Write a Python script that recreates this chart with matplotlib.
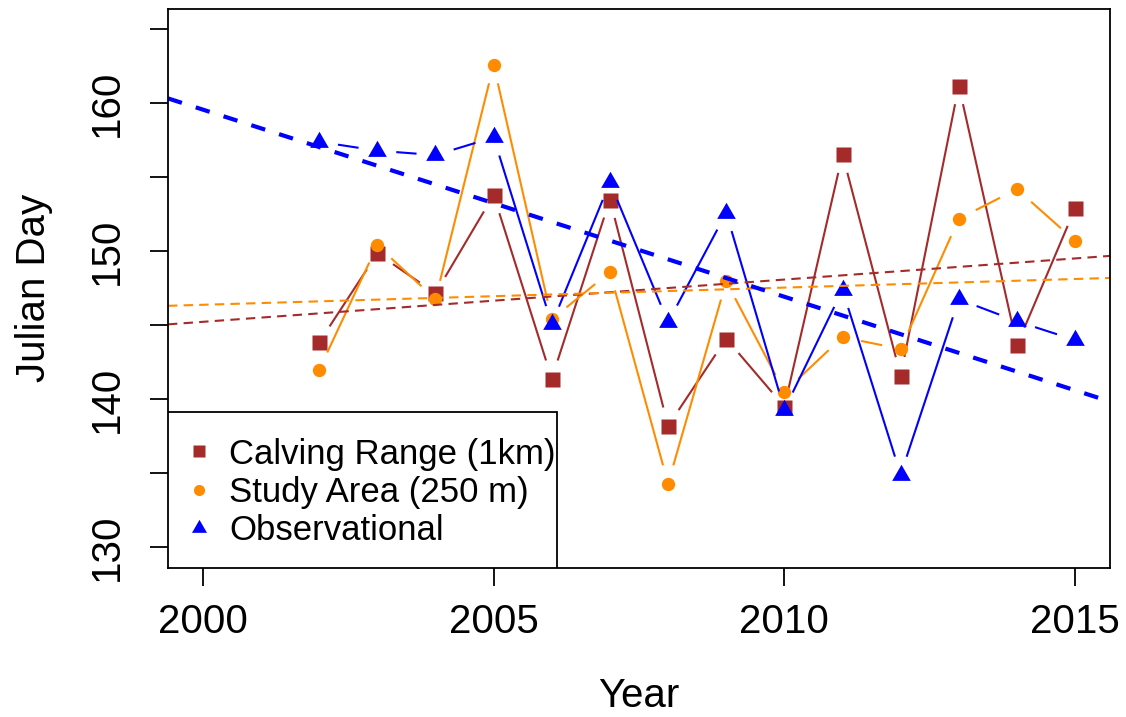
import numpy as np
import matplotlib
matplotlib.use("Agg")
import matplotlib.pyplot as plt
from matplotlib.lines import Line2D
from matplotlib.patches import Rectangle

plt.rcParams['font.family'] = ['Liberation Sans', 'DejaVu Sans']

years = np.arange(2002, 2016)
calving = [143.85, 149.86, 147.16, 153.8, 141.4, 153.5, 138.2, 144.1, 139.5, 156.55, 141.6, 161.2, 143.65, 152.9]
study = [142.0, 150.4, 146.76, 162.6, 145.4, 148.6, 134.3, 147.97, 140.5, 144.2, 143.4, 152.2, 154.2, 150.7]
observ = [157.4, 156.8, 156.5, 157.7, 145.07, 154.66, 145.2, 152.6, 139.3, 147.4, 134.9, 146.76, 145.27, 144.0]

labels = ['Calving Range (1km)', 'Study Area (250 m)', 'Observational']
colors = ['#A52A2A', '#FF8C00', '#0000FF']

x_ticks = [2000, 2005, 2010, 2015]
y_ticks = [130, 135, 140, 145, 150, 155, 160, 165]
y_ticklabels = ['130', '', '140', '', '150', '', '160', '']

# triangle centred on its centroid, like R's pch 17
tri = [(0, 1), (-0.866, -0.5), (0.866, -0.5), (0, 1)]
markers = ['s', 'o', tri]
msizes = [10.8, 9.6, 15.5]
leg_sizes = [8.4, 8.0, 12.5]

fig = plt.figure(figsize=(11.26, 7.17), dpi=100)
ax = fig.add_axes([168/1126, 1 - 568/717, 942/1126, 559.4/717])
ax.set_xlim(1999.4, 2015.6)
ax.set_ylim(128.6, 166.4)


def gapped(ax, x, y, gap, **kw):
    # R type="b": segments stop short of each point
    pts = ax.transData.transform(np.column_stack([x, y]))
    inv = ax.transData.inverted()
    for p0, p1 in zip(pts[:-1], pts[1:]):
        d = p1 - p0
        L = np.hypot(*d)
        if L <= 2 * gap:
            continue
        u = d / L
        a = inv.transform(p0 + u * gap)
        b = inv.transform(p1 - u * gap)
        ax.plot([a[0], b[0]], [a[1], b[1]], **kw)


for vals, c, m, ms in zip([calving, study, observ], colors, markers, msizes):
    gapped(ax, years, vals, 19, color=c, lw=1.5, solid_capstyle='butt')
    ax.plot(years, vals, linestyle='none', marker=m, ms=ms, color=c, mec='none')

# linear trends
for vals, c, lw, dash in zip([calving, study, observ], colors, [1.5, 1.5, 3.0], [(4.5, 3), (4.5, 3), (3.5, 3.5)]):
    slope, icpt = np.polyfit(years, vals, 1)
    ax.axline((2000, icpt + slope * 2000), slope=slope, color=c, lw=lw, dashes=dash)

ax.set_xticks(x_ticks)
ax.set_yticks(y_ticks)
ax.set_yticklabels(y_ticklabels)
plt.setp(ax.get_yticklabels(), rotation=90, va='center')
ax.tick_params(direction='out', length=13, width=1.3, labelsize=29, colors='black')
ax.tick_params(axis='x', pad=12)
ax.tick_params(axis='y', pad=17)
for s in ax.spines.values():
    s.set_linewidth(1.3)

ax.set_xlabel('Year', fontsize=29)
ax.xaxis.set_label_coords(0.5, -0.228)
ax.xaxis.label.set_va('center')
ax.set_ylabel('Julian Day', fontsize=29)
ax.yaxis.set_label_coords(-0.142, 0.5)
ax.yaxis.label.set_va('center')

# legend box
ax.add_patch(Rectangle((0, 0), 389/942, 156/559.4, transform=ax.transAxes,
                       facecolor='white', edgecolor='black', lw=1.3, zorder=5))
handles = [Line2D([], [], linestyle='none', marker=m, ms=s, color=c, mec='none')
           for m, s, c in zip(markers, leg_sizes, colors)]
leg = ax.legend(handles, labels, loc='lower left', bbox_to_anchor=(13.6/942, 21/559.4),
                borderaxespad=0, borderpad=0, frameon=False, fontsize=25,
                handlelength=1.0, handletextpad=0.37, labelspacing=0.15)
leg.set_zorder(6)

fig.savefig('out.png', dpi=100)
